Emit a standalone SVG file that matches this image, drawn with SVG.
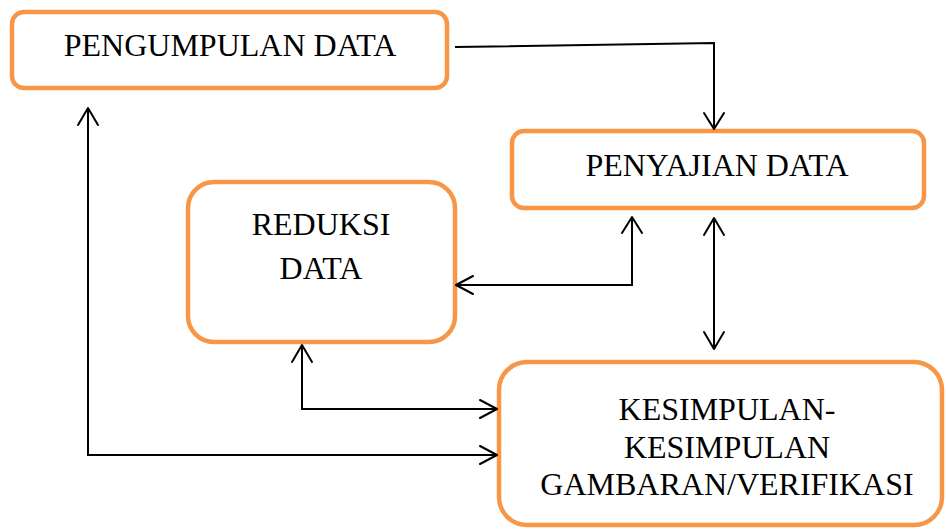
<svg xmlns="http://www.w3.org/2000/svg" width="946" height="529" viewBox="0 0 946 529">
<style>
.box{fill:#fff;stroke:#F79646;stroke-width:4.5}
.t{font-family:"Liberation Serif","Times New Roman",serif;font-size:32px;fill:#000;text-anchor:middle}
.c{fill:none;stroke:#000;stroke-width:2}
.h{fill:none;stroke:#000;stroke-width:2;stroke-linecap:round;stroke-linejoin:round}
</style>
<rect width="946" height="529" fill="#fff"/>
<g id="pengumpulan">
<rect class="box" x="12" y="12" width="435" height="76" rx="12"/>
<text class="t" x="230" y="56">PENGUMPULAN DATA</text>
</g>
<g id="penyajian">
<rect class="box" x="512" y="131" width="412" height="77" rx="12"/>
<text class="t" x="717" y="176">PENYAJIAN DATA</text>
</g>
<g id="reduksi">
<rect class="box" x="188" y="182" width="267" height="160" rx="26"/>
<text class="t" x="321" y="235">REDUKSI</text>
<text class="t" x="321" y="279">DATA</text>
</g>
<g id="kesimpulan">
<rect class="box" x="499" y="362" width="443" height="163" rx="28"/>
<text class="t" x="727" y="420">KESIMPULAN-</text>
<text class="t" x="727" y="458">KESIMPULAN</text>
<text class="t" x="727" y="495">GAMBARAN/VERIFIKASI</text>
</g>
<g id="connectors">
<polyline class="c" points="455,47 714,43 714,129"/>
<polyline class="h" points="704,113 714,129 724,113"/>
<polyline class="c" points="632,217 632,285 456,285"/>
<polyline class="h" points="622,233 632,217 642,233"/>
<polyline class="h" points="473,276 456,285 473,294"/>
<line class="c" x1="714" y1="218" x2="714" y2="349"/>
<polyline class="h" points="704,235 714,218 724,235"/>
<polyline class="h" points="704,332 714,349 724,332"/>
<polyline class="c" points="302,345 302,409 497,409"/>
<polyline class="h" points="292,362 302,345 312,362"/>
<polyline class="h" points="480,400 497,409 480,418"/>
<polyline class="c" points="88,108 88,455 497,455"/>
<polyline class="h" points="78,125 88,108 98,125"/>
<polyline class="h" points="480,446 497,455 480,464"/>
</g>
</svg>
